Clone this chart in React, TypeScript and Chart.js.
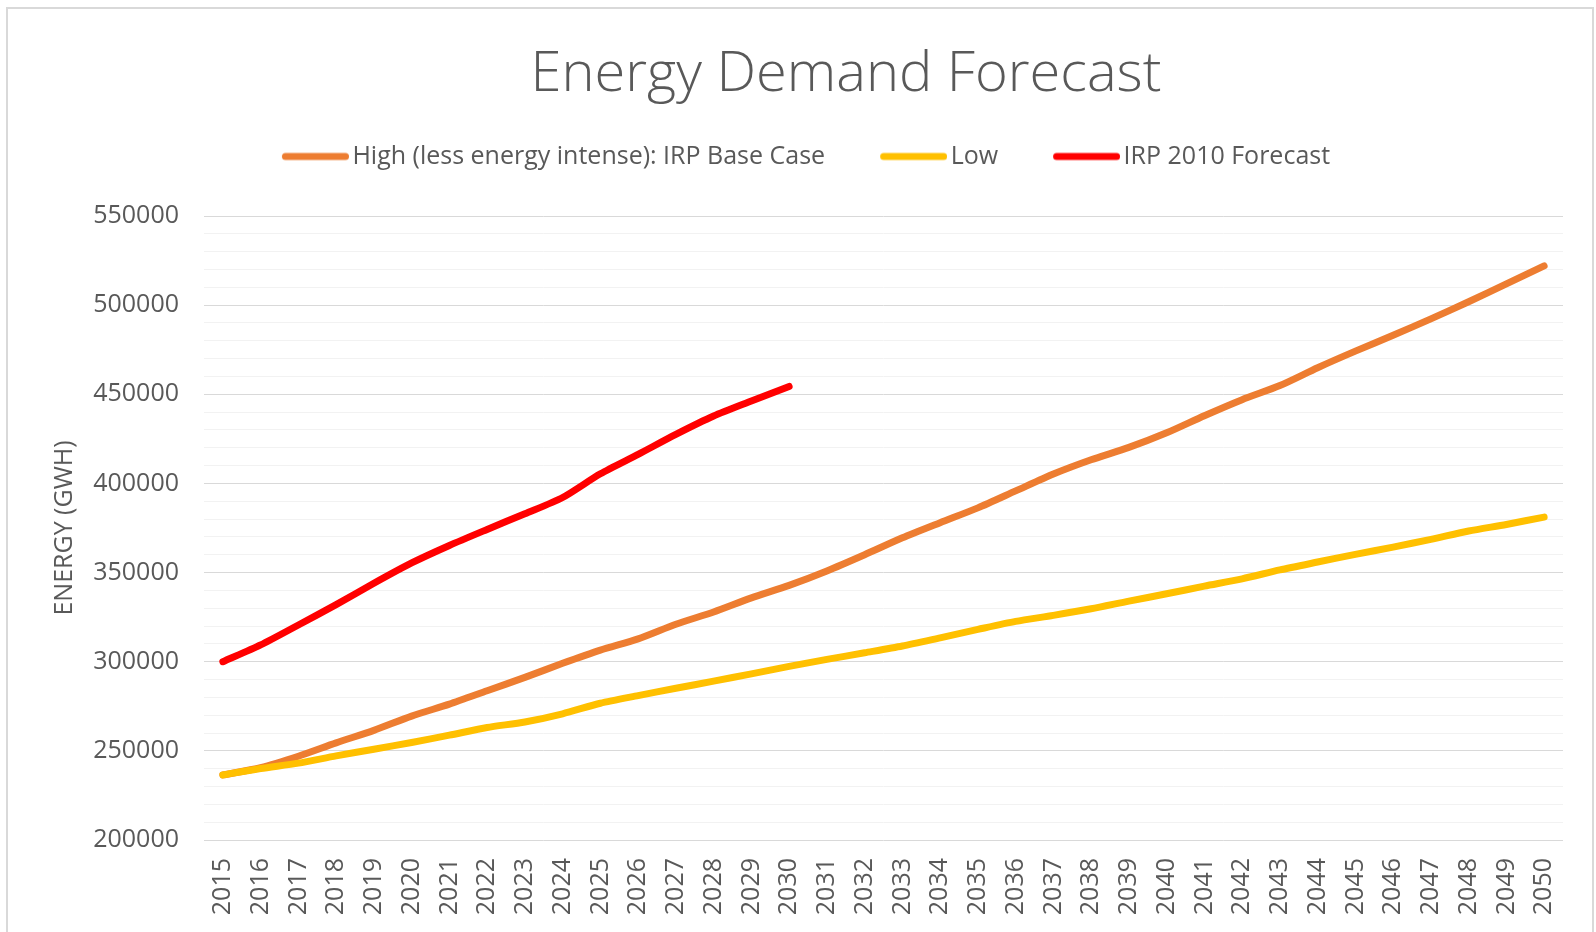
import React, { useEffect, useRef } from 'react';
import { Chart, registerables } from 'chart.js';

Chart.register(...registerables);

const years = [
  '2015', '2016', '2017', '2018', '2019', '2020', '2021', '2022', '2023', '2024', '2025', '2026',
  '2027', '2028', '2029', '2030', '2031', '2032', '2033', '2034', '2035', '2036', '2037', '2038',
  '2039', '2040', '2041', '2042', '2043', '2044', '2045', '2046', '2047', '2048', '2049', '2050',
];

const highBaseCase = [
  236500, 240600, 247000, 254500, 261500, 269500, 276200, 283700, 291200, 299100, 306500, 312800,
  321000, 327900, 335800, 342800, 350900, 360000, 369500, 378000, 386300, 395800, 405300, 413300,
  420200, 428400, 438000, 447000, 454900, 464900, 474200, 483100, 492300, 501900, 511900, 522000,
];

const lowCase = [
  236500, 240100, 243100, 247200, 250900, 254700, 258800, 263100, 266200, 270800, 276700, 281000,
  285100, 289100, 293200, 297400, 301300, 305000, 308800, 313400, 318100, 322600, 326000, 329700,
  334000, 338100, 342400, 346500, 351500, 355900, 360200, 364300, 368600, 373300, 377000, 381100,
];

const irp2010Forecast = [
  300000, 309400, 320600, 332000, 344000, 355400, 365200, 374200, 383000, 392100, 405400, 416300,
  427500, 437800, 446200, 454400,
];

const seriesNames = ['High (less energy intense): IRP Base Case', 'Low', 'IRP 2010 Forecast'];
const seriesColors = ['#ED7D31', '#FFC000', '#FF0000'];
const yMin = 200000;
const yMax = 550000;
const yMajorStep = 50000;
const yMinorStep = 10000;

const FONT = "'Open Sans', 'Noto Sans', sans-serif";
const TEXT = '#595959';

// legend swatch: a rounded line drawn into a small canvas used as point style
const makeLegendSwatch = (color: string) => {
  const c = document.createElement('canvas');
  c.width = 76;
  c.height = 10;
  const g = c.getContext('2d');
  if (g) {
    g.strokeStyle = color;
    g.lineWidth = 7;
    g.lineCap = 'round';
    g.beginPath();
    g.moveTo(12.5, 5);
    g.lineTo(72.5, 5);
    g.stroke();
  }
  return c;
};

export default function App() {
  const canvasRef = useRef<HTMLCanvasElement | null>(null);

  useEffect(() => {
    const canvas = canvasRef.current;
    if (!canvas) return;

    const shiftTitle = {
      id: 'shiftTitle',
      afterLayout(chart: any) {
        const t = chart.titleBlock;
        if (t) {
          t.left += 40;
          t.right += 40;
        }
      },
    };

    const lineDs = (label: string, data: number[], color: string, order: number) => ({
      label,
      data,
      borderColor: color,
      backgroundColor: color,
      borderWidth: 7,
      borderCapStyle: 'round' as const,
      borderJoinStyle: 'round' as const,
      pointRadius: 0,
      pointHoverRadius: 0,
      pointStyle: makeLegendSwatch(color),
      tension: 0.25,
      fill: false,
      order,
    });

    const chart = new Chart(canvas, {
      type: 'line',
      data: {
        labels: years,
        datasets: [
          lineDs(seriesNames[0], highBaseCase, seriesColors[0], 3),
          lineDs(seriesNames[1], lowCase, seriesColors[1], 2),
          lineDs(seriesNames[2], irp2010Forecast, seriesColors[2], 1),
        ],
      },
      plugins: [shiftTitle],
      options: {
        animation: false,
        responsive: false,
        devicePixelRatio: 1,
        layout: { padding: { left: 49, right: 33, top: 0, bottom: 0 } },
        plugins: {
          tooltip: { enabled: false },
          title: {
            display: true,
            text: 'Energy Demand Forecast',
            color: TEXT,
            font: { family: FONT, size: 56, weight: '300', lineHeight: 1 },
            padding: { top: 47, bottom: -14 },
          },
          legend: {
            display: true,
            position: 'top',
            labels: {
              color: TEXT,
              font: { family: FONT, size: 25 },
              padding: 55,
              usePointStyle: true,
              pointStyleWidth: 58,
              sort: (a: any, b: any) => a.datasetIndex - b.datasetIndex,
            },
          },
        },
        scales: {
          x: {
            type: 'category',
            offset: true,
            grid: { display: false, drawTicks: false },
            border: { display: false },
            ticks: {
              color: TEXT,
              font: { family: FONT, size: 25 },
              minRotation: 90,
              maxRotation: 90,
              padding: 18,
              autoSkip: false,
            },
            afterFit: (s: any) => {
              s.height = 92;
            },
          },
          xTop: {
            type: 'category',
            position: 'top',
            grid: { display: false, drawTicks: false },
            border: { display: false },
            ticks: { display: false },
            afterFit: (s: any) => {
              s.height = 37;
            },
          },
          y: {
            type: 'linear',
            min: yMin,
            max: yMax,
            border: { display: false },
            grid: {
              drawTicks: false,
              lineWidth: 1,
              color: (ctx: any) =>
                ctx.tick && ctx.tick.value % yMajorStep === 0 ? '#d9d9d9' : '#f2f2f2',
            },
            ticks: {
              stepSize: yMinorStep,
              autoSkip: false,
              color: TEXT,
              font: { family: FONT, size: 25 },
              padding: 25,
              callback: (v: any) => (Number(v) % yMajorStep === 0 ? String(v) : ''),
            },
            title: {
              display: true,
              text: 'ENERGY (GWH)',
              color: TEXT,
              font: { family: FONT, size: 25 },
              padding: { top: 1, bottom: 0 },
            },
            afterFit: (s: any) => {
              s.width = 155;
            },
          },
        },
      },
    } as any);

    return () => {
      chart.destroy();
    };
  }, []);

  return (
    <div
      style={{
        position: 'fixed',
        left: 0,
        top: 0,
        width: 1596,
        height: 932,
        background: '#ffffff',
        overflow: 'hidden',
      }}
    >
      <div
        style={{
          position: 'absolute',
          left: 6,
          top: 7,
          width: 1588,
          height: 960,
          border: '2px solid #d9d9d9',
          boxSizing: 'border-box',
        }}
      />
      <canvas
        ref={canvasRef}
        width={1596}
        height={932}
        style={{ position: 'absolute', left: 0, top: 0, width: 1596, height: 932, display: 'block' }}
      />
    </div>
  );
}
